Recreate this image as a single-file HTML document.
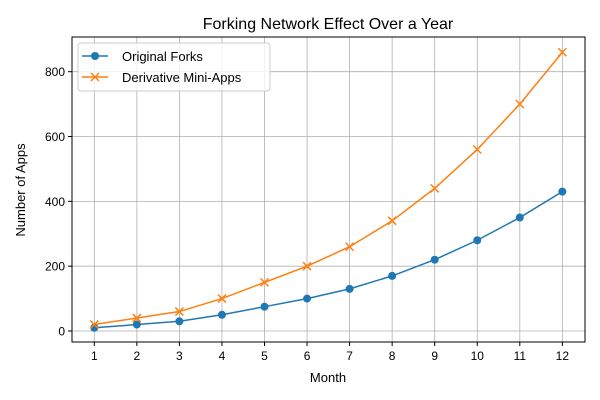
<!DOCTYPE html>
<html><head><meta charset="utf-8"><style>
body{margin:0;background:#fff;}
svg{display:block;font-family:"Liberation Sans","DejaVu Sans",sans-serif;}
</style></head><body>
<svg id="chart" width="600" height="400">
<text x="328" y="29" font-size="16" text-anchor="middle">Forking Network Effect Over a Year</text>
<g id="grid"></g>
<g id="series"></g>
<rect x="72" y="37" width="513" height="305" fill="none" stroke="#000" stroke-width="1"/>
<g id="ticks"></g>
<text x="328" y="382" font-size="13" text-anchor="middle">Month</text>
<text x="25" y="190" font-size="13" text-anchor="middle" transform="rotate(-90 25 190)">Number of Apps</text>
<g>
<rect x="78" y="43" width="192" height="48" rx="3" fill="#fff" fill-opacity="0.8" stroke="#ccc"/>
<line x1="82" y1="56" x2="108" y2="56" stroke="#1f77b4" stroke-width="1.5"/>
<circle cx="95" cy="56" r="4" fill="#1f77b4"/>
<text x="122" y="61" font-size="13">Original Forks</text>
<line x1="82" y1="77" x2="108" y2="77" stroke="#ff7f0e" stroke-width="1.5"/>
<path d="M91 73L99 81M99 73L91 81" stroke="#ff7f0e" stroke-width="1.5"/>
<text x="122" y="82" font-size="13">Derivative Mini-Apps</text>
</g>
</svg>
<script>
const months=[1,2,3,4,5,6,7,8,9,10,11,12];
const originalForks=[10,20,30,50,75,100,130,170,220,280,350,430];
const derivativeApps=[20,40,60,100,150,200,260,340,440,560,700,860];
const yTicks=[0,200,400,600,800];
const NS="http://www.w3.org/2000/svg";
const xs=m=>94.3+(m-1)*42.55;
const ys=v=>331-v*(259.3/800);
function mk(tag,attrs,parent){const e=document.createElementNS(NS,tag);for(const k in attrs)e.setAttribute(k,attrs[k]);parent.appendChild(e);return e;}
const grid=document.getElementById('grid'),ticks=document.getElementById('ticks'),ser=document.getElementById('series');
months.forEach(m=>{
 const g=mk('line',{x1:xs(m),x2:xs(m),y1:37,y2:342,stroke:'#b0b0b0','stroke-width':0.8},grid);
 
 
 mk('line',{x1:xs(m),x2:xs(m),y1:342,y2:346,stroke:'#000'},ticks);
 const t=mk('text',{x:xs(m),y:360,'font-size':12,'text-anchor':'middle'},ticks);t.textContent=m;
 
 
});
yTicks.forEach(v=>{
 const g=mk('line',{x1:72,x2:585,y1:ys(v),y2:ys(v),stroke:'#b0b0b0','stroke-width':0.8},grid);
 
 
 mk('line',{x1:68,x2:72,y1:ys(v),y2:ys(v),stroke:'#000'},ticks);
 const t=mk('text',{x:65,y:ys(v)+4.5,'font-size':12,'text-anchor':'end'},ticks);t.textContent=v;
 
 
});
function line(vals,color,name){
 const p=mk('polyline',{points:vals.map((v,i)=>xs(months[i])+','+ys(v)).join(' '),fill:'none',stroke:color,'stroke-width':1.5},ser);
 
 
}
line(originalForks,'#1f77b4','original-forks');
line(derivativeApps,'#ff7f0e','derivative-mini-apps');
originalForks.forEach((v,i)=>{
 const c=mk('circle',{cx:xs(months[i]),cy:ys(v),r:4,fill:'#1f77b4'},ser);
 
 
});
derivativeApps.forEach((v,i)=>{
 const x=xs(months[i]),y=ys(v);
 const p=mk('path',{d:`M${x-4} ${y-4}L${x+4} ${y+4}M${x+4} ${y-4}L${x-4} ${y+4}`,stroke:'#ff7f0e','stroke-width':1.5},ser);
 
 
});
</script>
</body></html>
